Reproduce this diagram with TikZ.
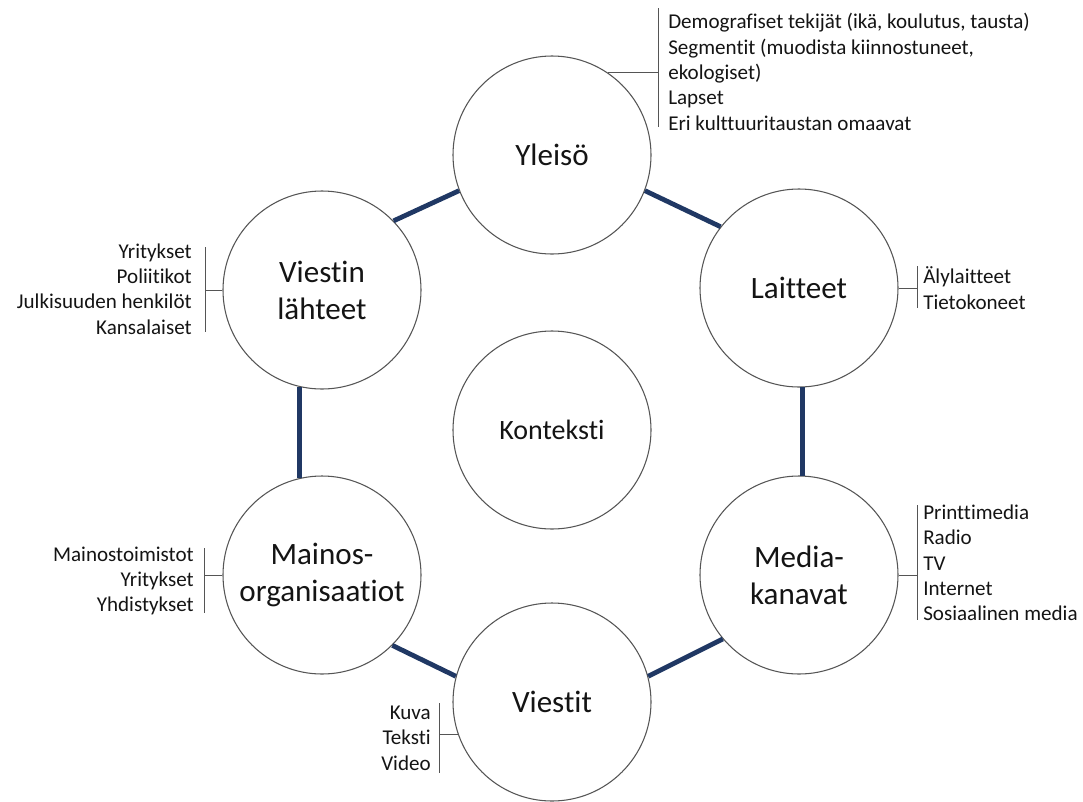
\documentclass[tikz,border=0pt]{standalone}
\usepackage{fontspec}
\setmainfont{Carlito}[Ligatures=NoCommon]
\usetikzlibrary{positioning}

\definecolor{linkblue}{HTML}{203864}
\definecolor{rimgray}{HTML}{555555}
\definecolor{inkgray}{HTML}{141414}

\tikzset{
  topic/.style={circle, draw=rimgray, line width=0.8pt, minimum size=148.5pt,
    inner sep=0pt, align=center, text=inkgray,
    font=\fontsize{23.3}{27.8}\selectfont},
  link/.style={linkblue, line width=3.6pt},
  bracket/.style={rimgray, line width=0.7pt},
  items/.style={inner sep=0pt, text=inkgray, font=\fontsize{15.8}{19}\selectfont},
}

\begin{document}
\begin{tikzpicture}[x=0.75pt, y=-0.75pt]
    \useasboundingbox (0,0) rectangle (1083,801);

    % Circles
    \node[topic] (yleiso)    at (552,155) {Yleisö};
    \node[topic] (laitteet)  at (799,288) {Laitteet};
    \node[topic] (media)     at (799,575) {Media-\\kanavat};
    \node[topic] (viestit)   at (552,702) {Viestit};
    \node[topic] (mainos)    at (322,575) {Mainos-\\organisaatiot};
    \node[topic] (lahteet)   at (322,290) {Viestin\\lähteet};
    \node[topic, font=\fontsize{21}{25}\selectfont] (konteksti) at (552,430) {Konteksti};

    % Ring of links
    \draw[link] (lahteet.44) -- (yleiso.201);
    \draw[link] (yleiso.339) -- (laitteet.142);
    \draw[link] (laitteet.272) -- (media.88);
    \draw[link] (media.220) -- (viestit.15);
    \draw[link] (viestit.165) -- (mainos.315);
    \draw[link] (mainos.103) -- (lahteet.257);

    % Lists
    \node[items, anchor=west, align=left] (yleisoList) at (668,72)
        {Demografiset tekijät (ikä, koulutus, tausta)\\
         Segmentit (muodista kiinnostuneet,\\
         ekologiset)\\
         Lapset\\
         Eri kulttuuritaustan omaavat};
    \node[items, anchor=west, align=left] (laitteetList) at (923,288)
        {Älylaitteet\\Tietokoneet};
    \node[items, anchor=west, align=left] (mediaList) at (923,563)
        {Printtimedia\\Radio\\TV\\Internet\\Sosiaalinen media};
    \node[items, anchor=east, align=right] (viestitList) at (431,738)
        {Kuva\\Teksti\\Video};
    \node[items, anchor=east, align=right] (mainosList) at (194,581)
        {Mainostoimistot\\Yritykset\\Yhdistykset};
    \node[items, anchor=east, align=right] (lahteetList) at (192,289)
        {Yritykset\\Poliitikot\\Julkisuuden henkilöt\\Kansalaiset};

    % Brackets
    \coordinate (ylTop) at (658,8);   \coordinate (ylBot) at (658,127);
    \coordinate (laTop) at (917,266); \coordinate (laBot) at (917,308);
    \coordinate (meTop) at (917,505); \coordinate (meBot) at (917,620);
    \coordinate (viTop) at (439,703); \coordinate (viBot) at (439,773);
    \coordinate (maTop) at (204,548); \coordinate (maBot) at (204,613);
    \coordinate (leTop) at (205,247); \coordinate (leBot) at (205,332);

    \draw[bracket] (ylTop) -- (ylBot);
    \draw[bracket] (yleiso.56) -- (yleiso.56 -| ylTop);
    \draw[bracket] (laTop) -- (laBot);
    \draw[bracket] (laitteet.east) -- (laitteet.east -| laTop);
    \draw[bracket] (meTop) -- (meBot);
    \draw[bracket] (media.east) -- (media.east -| meTop);
    \draw[bracket] (viTop) -- (viBot);
    \draw[bracket] (viestit.199) -- (viestit.199 -| viTop);
    \draw[bracket] (maTop) -- (maBot);
    \draw[bracket] (mainos.west) -- (mainos.west -| maTop);
    \draw[bracket] (leTop) -- (leBot);
    \draw[bracket] (lahteet.west) -- (lahteet.west -| leTop);
\end{tikzpicture}
\end{document}
